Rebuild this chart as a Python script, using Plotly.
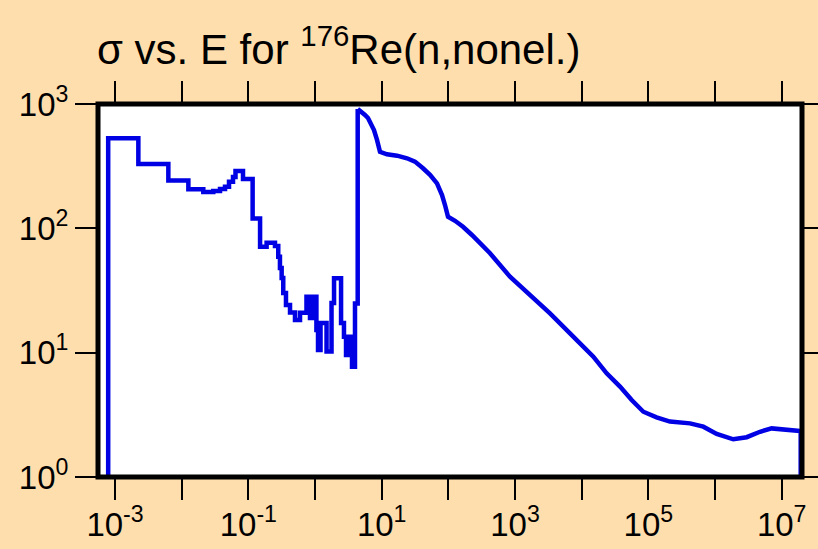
import plotly.graph_objects as go

# Cross section of 176Re(n,nonel.) versus incident neutron energy.
# Low-energy region: group boundaries (eV) and the cross section (b)
# of the group that starts at each boundary (drawn as a histogram).
FLOOR = 0.1  # below the y range, used for the rise from / drop to the axis

low_energy = [7.9e-4, 7.9e-4, 2.24e-3, 6.31e-3, 1.26e-2, 2.11e-2, 2.98e-2,
              3.76e-2, 4.47e-2, 5.13e-2, 5.89e-2, 6.42e-2, 8.32e-2, 0.116,
              0.150, 0.188, 0.251, 0.281, 0.298, 0.316, 0.334, 0.367, 0.422,
              0.501, 0.596, 0.745, 0.841, 0.933, 1.05, 1.11, 1.21, 1.49,
              1.77, 1.93, 2.46, 2.72, 2.92, 3.18, 3.59, 3.98, 4.37]
low_sigma = [FLOOR, 530, 329, 242, 206, 196, 200, 207, 216, 237, 259, 289,
             249, 120, 71.2, 76.7, 72.1, 59.1, 48.0, 39.9, 30.2, 24.2, 21.0,
             18.3, 20.9, 28.2, 19.0, 28.2, 15.2, 10.5, 17.3, 10.2, 25.1,
             39.6, 17.3, 13.4, 9.58, 13.4, 7.71, 24.9, 912]

# Finely grouped region above the big resonance (eV, b).
high_energy = [4.37, 5.07, 5.62, 6.24, 6.92, 7.67, 8.51, 9.44, 12.0, 17.0,
               24.0, 31.6, 41.7, 53.1, 67.6, 80.4, 89.1, 98.9, 126, 166, 226,
               299, 422, 841, 1679, 3350, 6683, 9441, 14962, 23714, 37584,
               56234, 84140, 1.33e5, 2.11e5, 4.22e5, 6.68e5, 1.06e6, 1.88e6,
               2.99e6, 4.73e6, 7.08e6, 1.19e7, 1.88e7, 1.93e7, 1.93e7]
high_sigma = [912, 863, 816, 771, 703, 618, 514, 413, 394, 384, 366, 344,
              304, 269, 230, 185, 154, 124, 115, 103, 88.4, 75.8, 63.0, 40.8,
              29.1, 20.7, 14.3, 11.9, 9.28, 6.82, 5.33, 4.16, 3.35, 3.02,
              2.79, 2.70, 2.54, 2.22, 2.01, 2.09, 2.31, 2.46, 2.42, 2.34,
              2.33, FLOOR]

x_exponents = list(range(-3, 8))
y_exponents = [0, 1, 2, 3]

LINE_COLOR = "rgb(0,0,228)"
BG = "#FFDEAD"
FONT = "Liberation Sans, Arial, Helvetica, sans-serif"

fig = go.Figure()
fig.add_trace(go.Scatter(x=low_energy, y=low_sigma, mode="lines",
                         line=dict(color=LINE_COLOR, width=4.5, shape="hv"),
                         showlegend=False))
fig.add_trace(go.Scatter(x=high_energy, y=high_sigma, mode="lines",
                         line=dict(color=LINE_COLOR, width=4.5),
                         showlegend=False))

x_ticktext = [f"10<sup>{e}</sup>" if e % 2 else "" for e in x_exponents]
y_ticktext = [f"10<sup>{e}</sup>" for e in y_exponents]

axis_common = dict(type="log", showgrid=False, zeroline=False, showline=False,
                   ticks="outside", ticklen=22, tickwidth=2, tickcolor="black",
                   mirror="allticks", automargin=False,
                   tickfont=dict(family=FONT, size=33, color="black"))

fig.update_xaxes(range=[-3.255, 7.305],
                 tickvals=[10.0 ** e for e in x_exponents],
                 ticktext=x_ticktext, ticklabelstandoff=-4, **axis_common)
fig.update_yaxes(range=[0, 3],
                 tickvals=[10.0 ** e for e in y_exponents],
                 ticktext=y_ticktext, **axis_common)

# heavy frame around the plotting area
fig.add_shape(type="rect", xref="paper", yref="paper", x0=0, x1=1, y0=0, y1=1,
              line=dict(color="black", width=5), layer="above")

fig.update_layout(
    width=818, height=549,
    paper_bgcolor=BG, plot_bgcolor="white",
    margin=dict(l=98, r=16, t=104, b=72, autoexpand=False),
    title=dict(text="σ vs. E for <sup>176</sup>Re(n,nonel.)",
               xref="container", yref="container",
               x=97 / 818, xanchor="left", y=1 - 49 / 549, yanchor="middle",
               font=dict(family=FONT, size=42, color="black")),
)

fig.write_html("out.html")
